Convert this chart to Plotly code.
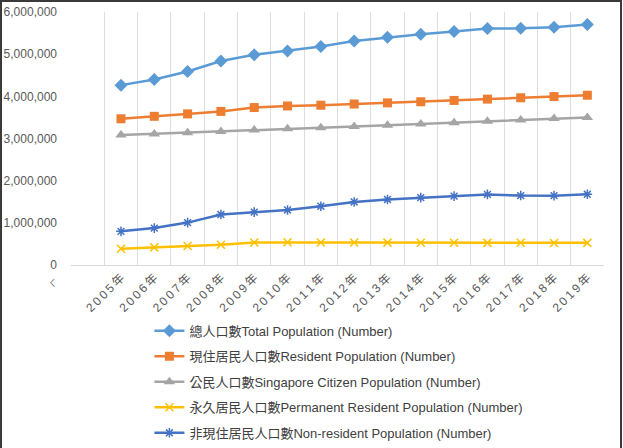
import plotly.graph_objects as go

years = ["2005年", "2006年", "2007年", "2008年", "2009年", "2010年", "2011年", "2012年",
         "2013年", "2014年", "2015年", "2016年", "2017年", "2018年", "2019年"]
total = [4265762, 4401365, 4588599, 4839396, 4987573, 5076732, 5183688, 5312437,
         5399162, 5469724, 5535002, 5607283, 5612253, 5638676, 5703569]
resident = [3467814, 3525894, 3583082, 3642659, 3733876, 3771721, 3789251, 3818205,
            3844751, 3870739, 3902690, 3933559, 3965796, 3994283, 4026209]
citizen = [3081001, 3107924, 3133849, 3164438, 3200693, 3230719, 3257228, 3285140,
           3313507, 3343030, 3375023, 3408943, 3439177, 3471936, 3500940]
pr = [386813, 417970, 449233, 478221, 533183, 541002, 532023, 533065,
      531244, 527709, 527667, 524616, 526619, 522347, 525269]
nonres = [797948, 875471, 1005517, 1196737, 1253697, 1305011, 1394437, 1494232,
          1554411, 1598985, 1632312, 1673724, 1646457, 1644393, 1677360]
y_ticks = [0, 1000000, 2000000, 3000000, 4000000, 5000000, 6000000]
y_ticktext = ["0", "1,000,000", "2,000,000", "3,000,000", "4,000,000", "5,000,000", "6,000,000"]

names = ["總人口數Total Population (Number)",
         "現住居民人口數Resident Population (Number)",
         "公民人口數Singapore Citizen Population (Number)",
         "永久居民人口數Permanent Resident Population (Number)",
         "非現住居民人口數Non-resident Population (Number)"]

def spaced(s):
    return "\u2009".join(list(s))

blank = "\u200b"
cats = [blank] + [spaced(y) for y in years]
xs = [spaced(y) for y in years]

FONT = "Liberation Sans, Noto Sans CJK TC, sans-serif"

series = [
    (total, "#5B9BD5", "diamond", 10, 0),
    (resident, "#ED7D31", "square", 9, 0),
    (citizen, "#A5A5A5", "triangle-up", 10, 0),
    (pr, "#FFC000", "x-thin-open", 8, 1.5),
    (nonres, "#4472C4", "asterisk-open", 8, 1.5),
]

fig = go.Figure()
for i, (vals, col, sym, sz, lw) in enumerate(series):
    mk = dict(symbol=sym, size=sz, color=col)
    if lw:
        mk["line"] = dict(color=col, width=lw)
    fig.add_trace(go.Scatter(
        x=xs, y=vals, name=names[i], mode="lines+markers",
        line=dict(color=col, width=2.5), marker=mk, legendgroup=str(i),
    ))

fig.update_layout(
    width=623, height=448,
    margin=dict(l=71, r=19, t=12, b=183, autoexpand=False),
    paper_bgcolor="white", plot_bgcolor="white",
    font=dict(family=FONT, size=12, color="#595959"),
    showlegend=True,
    legend=dict(
        xref="container", yref="container", x=0.2398, y=0.295,
        xanchor="left", yanchor="top",
        font=dict(family=FONT, size=13, color="#404040"),
        tracegroupgap=5.6, itemwidth=30, bgcolor="rgba(0,0,0,0)",
    ),
    xaxis=dict(
        type="category", categoryorder="array", categoryarray=cats,
        range=[-0.5, 15.5], tickson="boundaries",
        showgrid=True, gridcolor="#DEDEDE", gridwidth=1,
        showline=True, linecolor="#D9D9D9", linewidth=1,
        ticks="", tickangle=-45, tickfont=dict(size=12, color="#595959"),
        fixedrange=True, automargin=False,
    ),
    yaxis=dict(
        range=[0, 6000000], tickvals=y_ticks, ticktext=y_ticktext,
        showgrid=False, zeroline=False, showline=False, ticks="",
        tickfont=dict(size=12, color="#595959"), ticklabelstandoff=13,
        automargin=False,
    ),
    annotations=[dict(
        text="ㄑ", xref="paper", yref="paper", x=-0.034, y=-0.07,
        xanchor="center", yanchor="middle",
        showarrow=False, font=dict(size=9, color="#595959"),
    )],
    shapes=[dict(
        type="rect", xref="paper", yref="paper",
        x0=-0.1313, x1=1.0319, y0=-0.78, y1=1.0435,
        line=dict(color="#3a3a3a", width=2), layer="above",
    )],
)

fig.write_html("out.html")
